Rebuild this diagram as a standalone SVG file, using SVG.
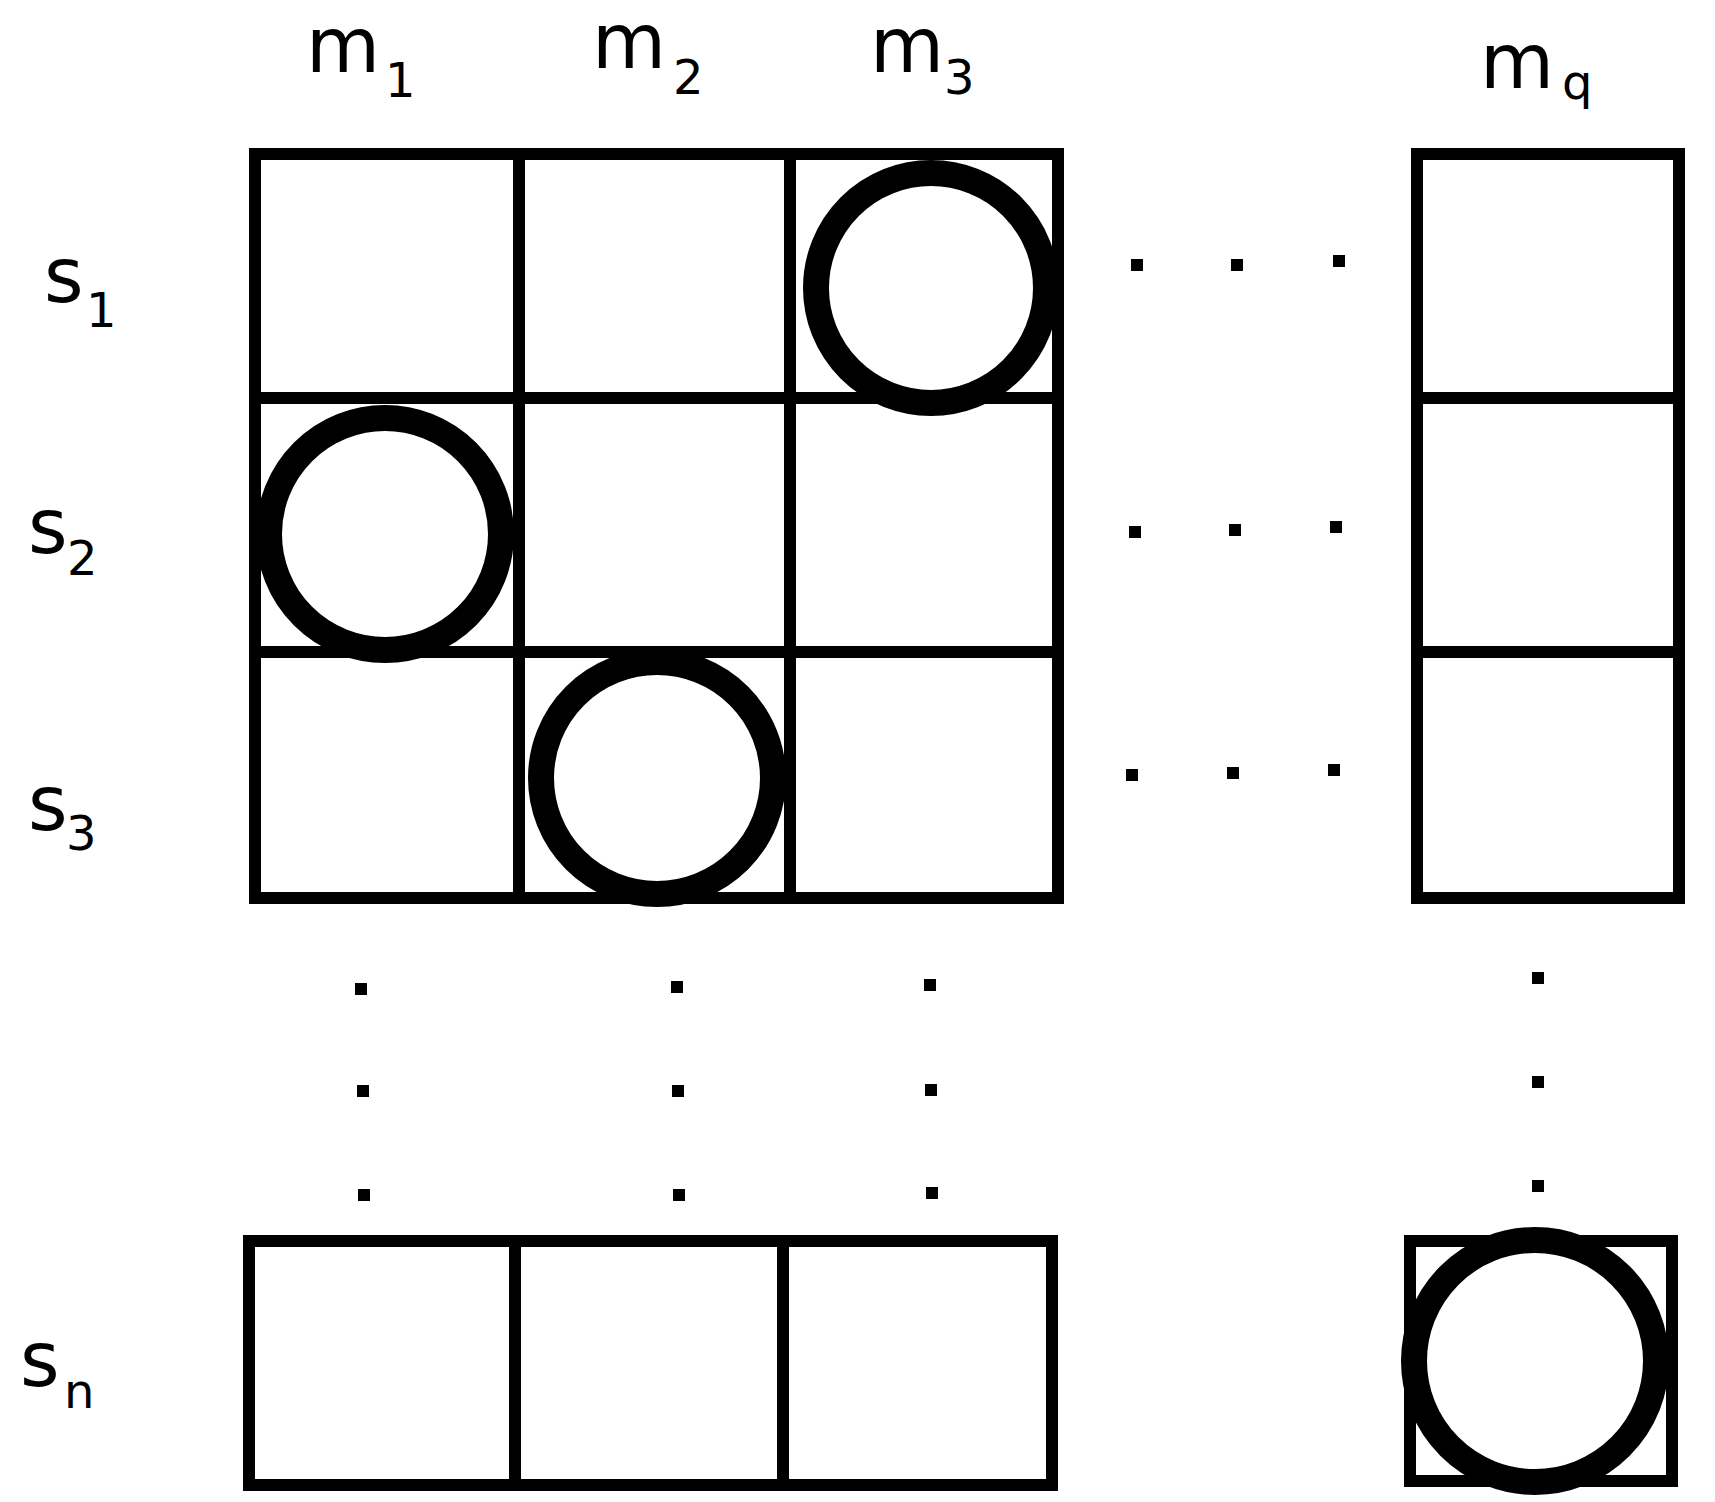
<svg xmlns="http://www.w3.org/2000/svg" width="1715" height="1502" viewBox="0 0 1715 1502">
<style>
.c{fill:none;stroke:#000;stroke-width:12}
.o{fill:none;stroke:#000;stroke-width:26}
.t{font-family:"DejaVu Sans",sans-serif;font-size:76px;fill:#000}
.s{font-family:"DejaVu Sans",sans-serif;font-size:48px;fill:#000}
.d{fill:#000}
</style>
<rect width="1715" height="1502" fill="#fff"/>
<g id="labels">
<text class="t" x="306" y="72">m</text><text class="s" x="385" y="97">1</text>
<text class="t" x="592" y="68">m</text><text class="s" x="673" y="94">2</text>
<text class="t" x="870" y="72">m</text><text class="s" x="944" y="94">3</text>
<text class="t" x="1480" y="88">m</text><text class="s" x="1562" y="99">q</text>
<text class="t" x="44" y="302">s</text><text class="s" x="86" y="327">1</text>
<text class="t" x="28" y="553">s</text><text class="s" x="67" y="575">2</text>
<text class="t" x="28" y="830">s</text><text class="s" x="66" y="850">3</text>
<text class="t" x="20" y="1386">s</text><text class="s" x="64" y="1408">n</text>
</g>
<g id="grid">
<rect class="c" x="255" y="154" width="803" height="744"/>
<line class="c" x1="519" y1="154" x2="519" y2="898" stroke-width="15"/>
<line class="c" x1="790" y1="154" x2="790" y2="898" stroke-width="15"/>
<line class="c" x1="255" y1="398" x2="1058" y2="398" stroke-width="15"/>
<line class="c" x1="255" y1="652" x2="1058" y2="652" stroke-width="15"/>
</g>
<g id="col-q">
<rect class="c" x="1417" y="154" width="262" height="744"/>
<line class="c" x1="1417" y1="398" x2="1679" y2="398" stroke-width="15"/>
<line class="c" x1="1417" y1="652" x2="1679" y2="652" stroke-width="15"/>
</g>
<g id="row-n">
<rect class="c" x="249" y="1241" width="803" height="244"/>
<line class="c" x1="515" y1="1241" x2="515" y2="1485" stroke-width="15"/>
<line class="c" x1="783" y1="1241" x2="783" y2="1485" stroke-width="15"/>
</g>
<g id="cell-nq">
<rect class="c" x="1410" y="1241" width="262" height="240"/>
</g>
<g id="circles">
<circle class="o" cx="931" cy="288" r="115"/>
<circle class="o" cx="385" cy="534" r="116"/>
<circle class="o" cx="657" cy="778" r="116"/>
<circle class="o" cx="1535" cy="1361" r="121"/>
</g>
<g id="dots" class="d">
<rect x="1131" y="259" width="12" height="12"/><rect x="1231" y="259" width="12" height="12"/><rect x="1333" y="255" width="12" height="12"/>
<rect x="1129" y="526" width="12" height="12"/><rect x="1229" y="524" width="12" height="12"/><rect x="1330" y="521" width="12" height="12"/>
<rect x="1126" y="769" width="12" height="12"/><rect x="1227" y="767" width="12" height="12"/><rect x="1328" y="764" width="12" height="12"/>
<rect x="355" y="983" width="12" height="12"/><rect x="357" y="1085" width="12" height="12"/><rect x="358" y="1189" width="12" height="12"/>
<rect x="671" y="981" width="12" height="12"/><rect x="672" y="1085" width="12" height="12"/><rect x="673" y="1189" width="12" height="12"/>
<rect x="924" y="979" width="12" height="12"/><rect x="925" y="1084" width="12" height="12"/><rect x="926" y="1187" width="12" height="12"/>
<rect x="1532" y="972" width="12" height="12"/><rect x="1532" y="1076" width="12" height="12"/><rect x="1532" y="1180" width="12" height="12"/>
</g>
</svg>
